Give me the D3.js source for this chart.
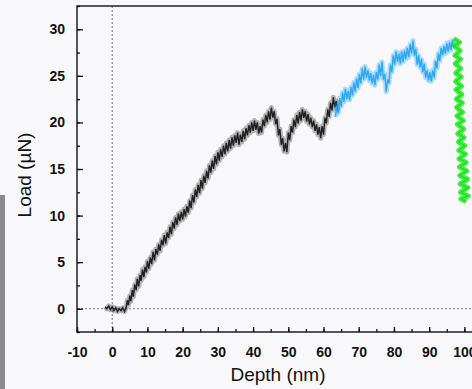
<!DOCTYPE html>
<html>
<head>
<meta charset="utf-8">
<script src="https://cdn.jsdelivr.net/npm/d3@7"></script>
<style>
  body { margin: 0; background: #f8f8fa; }
  svg { display: block; }
</style>
</head>
<body>
<div id="wrapper"></div>
<script>
// loading segment (black)
let depthBlack = [-2.0, -1.5, -1.0, -0.5, 0.0, 0.5, 1.0, 1.5, 2.0, 2.5, 3.0, 3.5, 4.0, 4.3, 4.6, 5.0, 5.3, 5.7, 6.0, 6.4,
  6.8, 7.1, 7.5, 7.9, 8.2, 8.6, 9.0, 9.3, 9.7, 10.0, 10.4, 10.8, 11.2, 11.6, 12.0, 12.4, 12.8, 13.2, 13.6, 14.0,
  14.4, 14.8, 15.2, 15.6, 16.0, 16.4, 16.8, 17.2, 17.6, 18.0, 18.4, 18.8, 19.2, 19.6, 20.0, 20.4, 20.8, 21.2, 21.6, 22.0,
  22.4, 22.8, 23.2, 23.6, 24.0, 24.4, 24.8, 25.2, 25.6, 26.0, 26.4, 26.8, 27.2, 27.6, 28.0, 28.4, 28.8, 29.2, 29.6, 30.0,
  30.4, 30.8, 31.2, 31.6, 32.0, 32.4, 32.8, 33.2, 33.6, 34.0, 34.4, 34.8, 35.2, 35.6, 36.0, 36.4, 36.8, 37.2, 37.6, 38.0,
  38.4, 38.8, 39.2, 39.6, 40.0, 40.4, 40.8, 41.2, 41.6, 42.0, 42.4, 42.8, 43.2, 43.6, 44.0, 44.4, 44.8, 45.2, 45.6, 46.0,
  46.4, 46.8, 47.2, 47.6, 48.0, 48.4, 48.8, 49.2, 49.6, 50.0, 50.4, 50.8, 51.2, 51.6, 52.0, 52.4, 52.8, 53.2, 53.6, 54.0,
  54.4, 54.8, 55.2, 55.6, 56.0, 56.4, 56.8, 57.2, 57.6, 58.0, 58.4, 58.8, 59.2, 59.6, 60.0, 60.4, 60.8, 61.2, 61.6, 62.0,
  62.4, 62.8, 63.2, 63.6, 64.0];
let loadBlack = [0.2, 0.0, 0.3, -0.1, 0.2, -0.2, 0.1, -0.3, 0.0, -0.2, 0.1, -0.3, 0.2, 0.9, 0.4, 1.4, 0.8, 2.0, 1.3, 2.6,
  2.0, 3.2, 2.4, 3.6, 3.0, 4.2, 3.4, 4.5, 3.9, 5.1, 4.3, 5.5, 4.8, 6.1, 5.2, 6.4, 5.8, 6.9, 6.2, 7.4,
  6.8, 7.9, 7.0, 8.2, 7.6, 8.8, 8.0, 9.3, 8.6, 9.8, 9.0, 10.2, 9.4, 10.4, 9.6, 10.7, 9.9, 11.0, 10.3, 11.6,
  10.8, 12.2, 11.4, 12.8, 12.0, 13.3, 12.4, 13.8, 12.9, 14.3, 13.5, 14.8, 14.0, 15.4, 14.6, 15.9, 15.0, 16.4, 15.5, 16.8,
  15.9, 17.1, 16.3, 17.5, 16.6, 17.8, 16.9, 18.1, 17.2, 18.4, 17.5, 18.6, 17.8, 18.9, 17.6, 18.7, 17.9, 19.1, 18.2, 19.4,
  18.6, 19.7, 18.9, 20.0, 19.1, 20.2, 19.2, 20.0, 18.8, 19.6, 18.9, 20.3, 19.6, 20.8, 20.0, 21.2, 20.3, 21.6, 20.5, 21.2,
  19.8, 20.4, 18.6, 19.3, 17.6, 18.3, 16.9, 17.8, 16.8, 18.9, 18.1, 19.6, 18.9, 20.3, 19.5, 20.8, 19.9, 21.1, 20.2, 21.4,
  20.5, 21.2, 20.1, 20.9, 19.8, 20.5, 19.5, 20.2, 19.1, 19.8, 18.7, 19.5, 18.3, 19.6, 18.7, 20.5, 19.9, 21.4, 20.6, 22.1,
  21.3, 22.7, 21.6, 22.3, 21.2];

// hold segment (blue)
let depthBlue = [63.4, 63.8, 64.2, 64.6, 65.0, 65.4, 65.8, 66.2, 66.6, 67.0, 67.4, 67.8, 68.2, 68.6, 69.0, 69.4, 69.8, 70.2, 70.6, 71.0,
  71.4, 71.8, 72.2, 72.6, 73.0, 73.4, 73.8, 74.2, 74.6, 75.0, 75.4, 75.8, 76.2, 76.6, 77.0, 77.4, 77.8, 78.2, 78.6, 79.0,
  79.4, 79.8, 80.2, 80.6, 81.0, 81.4, 81.8, 82.2, 82.6, 83.0, 83.4, 83.8, 84.2, 84.6, 85.0, 85.4, 85.8, 86.2, 86.6, 87.0,
  87.4, 87.8, 88.2, 88.6, 89.0, 89.4, 89.8, 90.2, 90.6, 91.0, 91.4, 91.8, 92.2, 92.6, 93.0, 93.4, 93.8, 94.2, 94.6, 95.0,
  95.4, 95.8, 96.2, 96.6, 97.0];
let loadBlue = [20.6, 21.8, 21.0, 22.6, 21.7, 23.2, 22.2, 23.6, 22.5, 23.4, 22.4, 23.8, 22.9, 24.3, 23.3, 24.7, 23.7, 25.2, 24.2, 25.8,
  24.6, 26.0, 24.8, 25.6, 24.5, 25.3, 24.2, 25.1, 24.0, 25.4, 24.6, 26.2, 25.0, 26.5, 24.6, 25.2, 23.3, 24.6, 24.2, 26.2,
  25.4, 27.2, 26.2, 27.6, 26.5, 27.4, 26.3, 27.6, 26.5, 27.7, 26.8, 28.0, 27.0, 28.4, 27.4, 28.8, 27.2, 27.9, 26.2, 27.2,
  25.9, 26.8, 25.4, 26.3, 24.8, 25.6, 24.5, 25.4, 24.4, 25.6, 24.8, 26.6, 25.8, 27.4, 26.6, 28.0, 27.2, 28.2, 27.4, 28.5,
  27.6, 28.6, 27.8, 28.8, 28.0];

// unloading segment (green)
let depthGreen = [97.0, 98.6, 97.2, 98.8, 97.3, 98.9, 97.4, 99.0, 97.5, 99.1, 97.5, 99.2, 97.6, 99.3, 97.7, 99.4, 97.8, 99.5, 97.9, 99.7,
  98.0, 99.8, 98.1, 99.9, 98.3, 100.1, 98.4, 100.3, 98.5, 100.5, 98.6, 100.7, 98.7, 100.9, 98.8, 101.0, 98.9, 101.1, 99.0, 100.5];
let loadGreen = [29.0, 28.6, 28.2, 27.7, 27.2, 26.8, 26.3, 25.8, 25.3, 24.9, 24.4, 23.9, 23.5, 23.0, 22.5, 22.1, 21.6, 21.1, 20.7, 20.2,
  19.8, 19.3, 18.8, 18.4, 17.9, 17.5, 17.0, 16.6, 16.1, 15.7, 15.2, 14.8, 14.3, 13.9, 13.4, 13.0, 12.5, 12.1, 11.8, 11.5];

let xTicks = [-10, 0, 10, 20, 30, 40, 50, 60, 70, 80, 90, 100];
let yTicks = [0, 5, 10, 15, 20, 25, 30];

const width = 472;
const height = 389;
let plot = { left: 77, top: 6, right: 482, bottom: 332 };

let svg = d3
  .select("#wrapper")
  .append("svg")
  .attr("width", width)
  .attr("height", height);

// faint background + grey strip at the left edge
svg.append("rect").attr("width", width).attr("height", height).attr("fill", "#f8f8fa");
svg.append("rect").attr("x", 0).attr("y", 195).attr("width", 5).attr("height", height - 195).attr("fill", "#8a8a8a");

let x = d3.scaleLinear().domain([-10, 105]).range([plot.left, plot.right]);
let y = d3.scaleLinear().domain([-2.5, 32.5]).range([plot.bottom, plot.top]);

// zero reference lines
svg.append("line")
  .attr("x1", x(0)).attr("x2", x(0))
  .attr("y1", plot.top).attr("y2", plot.bottom)
  .attr("stroke", "#555").attr("stroke-width", 0.8).attr("stroke-dasharray", "2,2");
svg.append("line")
  .attr("x1", plot.left).attr("x2", plot.right)
  .attr("y1", y(0)).attr("y2", y(0))
  .attr("stroke", "#555").attr("stroke-width", 0.8).attr("stroke-dasharray", "2,2");

let line = d3.line().x(d => x(d[0])).y(d => y(d[1]));

let series = [
  { depth: depthBlack, load: loadBlack, color: "#111111", band: 0.3 },
  { depth: depthBlue, load: loadBlue, color: "#1fa4f2", band: 0.35 },
  { depth: depthGreen, load: loadGreen, color: "#12e612", band: 0.75 }
];

// noisy bands: wide translucent stroke under a thin one
series.forEach(s => {
  let pts = d3.zip(s.depth, s.load);
  svg.append("path")
    .datum(pts)
    .attr("d", line)
    .attr("fill", "none")
    .attr("stroke", s.color)
    .attr("stroke-width", 5)
    .attr("stroke-linejoin", "round")
    .attr("stroke-opacity", s.band);
  svg.append("path")
    .datum(pts)
    .attr("d", line)
    .attr("fill", "none")
    .attr("stroke", s.color)
    .attr("stroke-width", 1.4)
    .attr("stroke-opacity", 0.9);
});

// frame
svg.append("rect")
  .attr("x", plot.left).attr("y", plot.top)
  .attr("width", plot.right - plot.left).attr("height", plot.bottom - plot.top)
  .attr("fill", "none").attr("stroke", "#111").attr("stroke-width", 1.4);

// axes with inward ticks
let xAxis = d3.axisBottom(x).tickValues(d3.range(-10, 106, 5)).tickSize(-3).tickFormat("");
let xMajor = d3.axisBottom(x).tickValues(xTicks).tickSize(-5).tickPadding(15).tickFormat(d => String(d));
let yAxis = d3.axisLeft(y).tickValues(d3.range(-2.5, 32.6, 2.5)).tickSize(-3).tickFormat("");
let yMajor = d3.axisLeft(y).tickValues(yTicks).tickSize(-6).tickPadding(12).tickFormat(d => String(d));

[xAxis, xMajor].forEach(a => {
  svg.append("g").attr("transform", `translate(0,${plot.bottom})`).call(a);
});
[yAxis, yMajor].forEach(a => {
  svg.append("g").attr("transform", `translate(${plot.left},0)`).call(a);
});

svg.selectAll(".domain").remove();
svg.selectAll(".tick line").attr("stroke", "#111").attr("stroke-width", 1.3);
svg.selectAll(".tick text")
  .attr("font-family", "Liberation Sans, Arial, sans-serif")
  .attr("font-weight", "bold")
  .attr("font-size", 14)
  .attr("fill", "#111");

// titles
svg.append("text")
  .attr("x", 278).attr("y", 381)
  .attr("text-anchor", "middle")
  .attr("font-family", "Liberation Sans, Arial, sans-serif")
  .attr("font-size", 19)
  .attr("fill", "#111")
  .text("Depth (nm)");

svg.append("text")
  .attr("transform", "translate(31,175) rotate(-90)")
  .attr("text-anchor", "middle")
  .attr("font-family", "Liberation Sans, Arial, sans-serif")
  .attr("font-size", 19)
  .attr("fill", "#111")
  .text("Load (µN)");
</script>
</body>
</html>
